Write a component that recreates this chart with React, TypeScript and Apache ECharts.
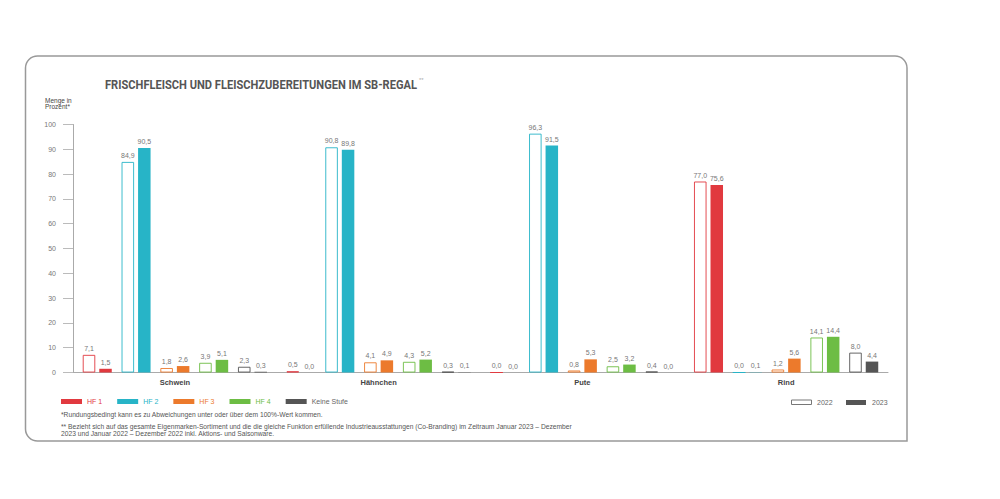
import React, { useEffect, useRef } from "react";
import * as echarts from "echarts";

const categories = ["Schwein", "Hähnchen", "Pute", "Rind"];
const levels = ["HF 1", "HF 2", "HF 3", "HF 4", "Keine Stufe"];
const levelColors = ["#e1393f", "#27b4c7", "#ec7a2c", "#6dbd44", "#555555"];
const legendTextColors = ["#e1393f", "#27b4c7", "#ec7a2c", "#6dbd44", "#666666"];

const hf1_2022 = [7.1, 0.5, 0.0, 77.0];
const hf1_2023 = [1.5, 0.0, 0.0, 75.6];
const hf2_2022 = [84.9, 90.8, 96.3, 0.0];
const hf2_2023 = [90.5, 89.8, 91.5, 0.1];
const hf3_2022 = [1.8, 4.1, 0.8, 1.2];
const hf3_2023 = [2.6, 4.9, 5.3, 5.6];
const hf4_2022 = [3.9, 4.3, 2.5, 14.1];
const hf4_2023 = [5.1, 5.2, 3.2, 14.4];
const ks_2022 = [2.3, 0.3, 0.4, 8.0];
const ks_2023 = [0.3, 0.1, 0.0, 4.4];

const data2022 = [hf1_2022, hf2_2022, hf3_2022, hf4_2022, ks_2022];
const data2023 = [hf1_2023, hf2_2023, hf3_2023, hf4_2023, ks_2023];

const yTicks = [0, 10, 20, 30, 40, 50, 60, 70, 80, 90, 100];

const FONT = "'Liberation Sans', Arial, sans-serif";
const BAR_W = 12.5;
const GAP = 0.32;
const SPACER_W = 4.4;

function fmt(v: number) {
  return v.toFixed(1).replace(".", ",");
}

export default function App() {
  const ref = useRef<HTMLDivElement>(null);
  useEffect(() => {
    if (!ref.current) return;
    const chart = echarts.init(ref.current, undefined, { renderer: "svg" });
    const series: any[] = [];
    levels.forEach((name, i) => {
      const label = {
        show: true,
        position: "top",
        distance: 3,
        fontSize: 7,
        color: "#777777",
        fontFamily: FONT,
        formatter: (p: any) => fmt(p.value),
      };
      series.push({
        type: "bar",
        name: name + " 2022",
        data: data2022[i],
        barWidth: BAR_W,
        barGap: GAP,
        itemStyle: { color: "#ffffff", borderColor: levelColors[i], borderWidth: 0.9, opacity: 1 },
        label,
      });
      series.push({
        type: "bar",
        name: name,
        data: data2023[i],
        barWidth: BAR_W,
        barGap: GAP,
        itemStyle: { color: levelColors[i] },
        label,
      });
      if (i < levels.length - 1) {
        series.push({
          type: "bar",
          name: "spacer" + i,
          data: [],
          barWidth: SPACER_W,
          barGap: GAP,
          silent: true,
        });
      }
    });

    chart.setOption({
      animation: false,
      backgroundColor: "#ffffff",
      textStyle: { fontFamily: FONT },
      grid: { left: 73, right: 112, top: 124.5, bottom: 126.5, containLabel: false },
      xAxis: {
        type: "category",
        data: categories,
        axisLine: { lineStyle: { color: "#aaaaaa", width: 1 } },
        axisTick: { show: false },
        axisLabel: { fontSize: 7.5, color: "#444", fontWeight: "bold", margin: 6, fontFamily: FONT },
      },
      yAxis: {
        type: "value",
        min: 0,
        max: 100,
        interval: 10,
        axisLine: { show: true, lineStyle: { color: "#aaaaaa", width: 1 } },
        axisTick: { show: true, length: 10, lineStyle: { color: "#bbbbbb" } },
        axisLabel: {
          fontSize: 7,
          color: "#777",
          margin: 17,
          fontFamily: FONT,
          formatter: (v: number) => (yTicks.includes(v) ? String(v) : ""),
        },
        splitLine: { show: false },
      },
      legend: {
        left: 61,
        top: 398,
        padding: 0,
        icon: "rect",
        itemWidth: 21,
        itemHeight: 5,
        itemGap: 15,
        selectedMode: false,
        textStyle: { fontSize: 7, fontFamily: FONT },
        data: levels.map((n, i) => ({ name: n, textStyle: { color: legendTextColors[i] } })),
      },
      graphic: [
        {
          type: "rect",
          shape: { x: 25.5, y: 56, width: 881.5, height: 385, r: [12, 12, 0, 12] },
          style: { fill: "none", stroke: "#999999", lineWidth: 1.5 },
          silent: true,
        },
        {
          type: "text",
          x: 105,
          y: 84.5,
          scaleX: 0.855,
          style: {
            text: "FRISCHFLEISCH UND FLEISCHZUBEREITUNGEN IM SB-REGAL",
            fill: "#555555",
            font: "bold 13px Roboto, 'Liberation Sans', sans-serif",
            textVerticalAlign: "middle",
          },
        },
        {
          type: "text",
          x: 419,
          y: 80,
          style: {
            text: "**",
            fill: "#aaaaaa",
            font: "6px 'Liberation Sans', sans-serif",
            textVerticalAlign: "middle",
          },
        },
        {
          type: "text",
          x: 45,
          y: 97,
          style: {
            text: "Menge in\nProzent*",
            fill: "#444444",
            font: "6.5px 'Liberation Sans', sans-serif",
            lineHeight: 6.5,
            textVerticalAlign: "top",
          },
        },
        {
          type: "rect",
          shape: { x: 791.5, y: 400, width: 20, height: 4.5 },
          style: { fill: "#ffffff", stroke: "#777777", lineWidth: 1 },
        },
        {
          type: "text",
          x: 817,
          y: 402.5,
          style: { text: "2022", fill: "#666666", font: "7px 'Liberation Sans', sans-serif", textVerticalAlign: "middle" },
        },
        {
          type: "rect",
          shape: { x: 846, y: 400, width: 20, height: 5 },
          style: { fill: "#555555" },
        },
        {
          type: "text",
          x: 872,
          y: 402.5,
          style: { text: "2023", fill: "#666666", font: "7px 'Liberation Sans', sans-serif", textVerticalAlign: "middle" },
        },
        {
          type: "text",
          x: 61,
          y: 414.5,
          style: {
            text: "*Rundungsbedingt kann es zu Abweichungen unter oder über dem 100%-Wert kommen.",
            fill: "#555555",
            font: "6.7px 'Liberation Sans', sans-serif",
            textVerticalAlign: "middle",
          },
        },
        {
          type: "text",
          x: 61,
          y: 423,
          style: {
            text:
              "** Bezieht sich auf das gesamte Eigenmarken-Sortiment und die die gleiche Funktion erfüllende Industrieausstattungen (Co-Branding) im Zeitraum Januar 2023 – Dezember\n2023 und Januar 2022 – Dezember 2022 inkl. Aktions- und Saisonware.",
            fill: "#555555",
            font: "6.7px 'Liberation Sans', sans-serif",
            lineHeight: 7,
            textVerticalAlign: "top",
          },
        },
      ],
      series,
    });
    return () => chart.dispose();
  }, []);
  return (
    <div
      ref={ref}
      style={{ position: "fixed", left: 0, top: 0, width: 1000, height: 499, background: "#fff" }}
    />
  );
}
